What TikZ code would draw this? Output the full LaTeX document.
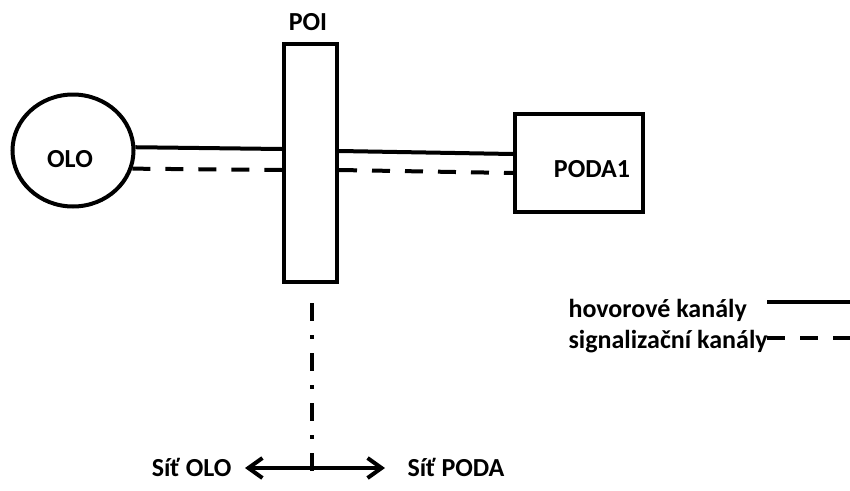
\documentclass[tikz,border=0pt]{standalone}
\usepackage{fontspec}
\setmainfont{Carlito}
\usetikzlibrary{shapes.geometric,arrows.meta}
\tikzset{mybarb/.tip={Straight Barb[length=14pt,width=20pt,line width=4pt]}}
\begin{document}
\begin{tikzpicture}[x=1pt,y=-1pt,
  every node/.style={font=\bfseries\fontsize{26}{31}\selectfont},
  thick line/.style={line width=4pt},
  boxline/.style={draw, line width=4pt, inner sep=0pt},
  sigline/.style={line width=4pt, dash pattern=on 18pt off 15pt},
  ddot/.style={line width=4pt, dash pattern=on 18pt off 14pt on 4pt off 14pt}
]
\useasboundingbox (0,0) rectangle (850,490);
% nodes
\node[boxline, ellipse, minimum width=121pt, minimum height=112pt] (olo) at (73,150.5) {};
\node (ololabel) at (70,159) {OLO};
\node[boxline, rectangle, minimum width=53pt, minimum height=238pt] (poi) at (310.5,163) {};
\node (poilabel) at (308,22) {POI};
\node[boxline, rectangle, minimum width=128pt, minimum height=98pt] (poda) at (579,163) {};
\node (podalabel) at (592,169) {PODA1};
% connectors
\draw[thick line] (olo.3) -- ([yshift=14pt]poi.west);
\draw[sigline] (olo.-17) -- ([yshift=-7pt]poi.west);
\draw[thick line] ([yshift=12pt]poi.east) -- ([yshift=9pt]poda.west);
\draw[sigline] ([yshift=-7pt]poi.east) -- ([yshift=-10pt]poda.west);
% legend
\node[anchor=west] (leg1) at (565,310) {hovorové kanály};
\node[anchor=west] (leg2) at (565,342) {signalizační kanály};
\coordinate (l1a) at (767,302);
\coordinate (l1b) at (850,302);
\coordinate (l2a) at (767,338);
\coordinate (l2b) at (850,338);
\draw[thick line] (l1a) -- (l1b);
\draw[sigline] (l2a) -- (l2b);
% boundary
\coordinate (bt) at (312,303);
\coordinate (bb) at (312,475);
\draw[ddot] (bt) -- (bb);
\node[anchor=east] (sitolo) at (235,467) {Síť OLO};
\node[anchor=west] (sitpoda) at (404,467) {Síť PODA};
\draw[line width=4pt, mybarb-mybarb] ([xshift=10pt,yshift=-1pt]sitolo.east) -- ([xshift=-19pt,yshift=-1pt]sitpoda.west);
\end{tikzpicture}
\end{document}
